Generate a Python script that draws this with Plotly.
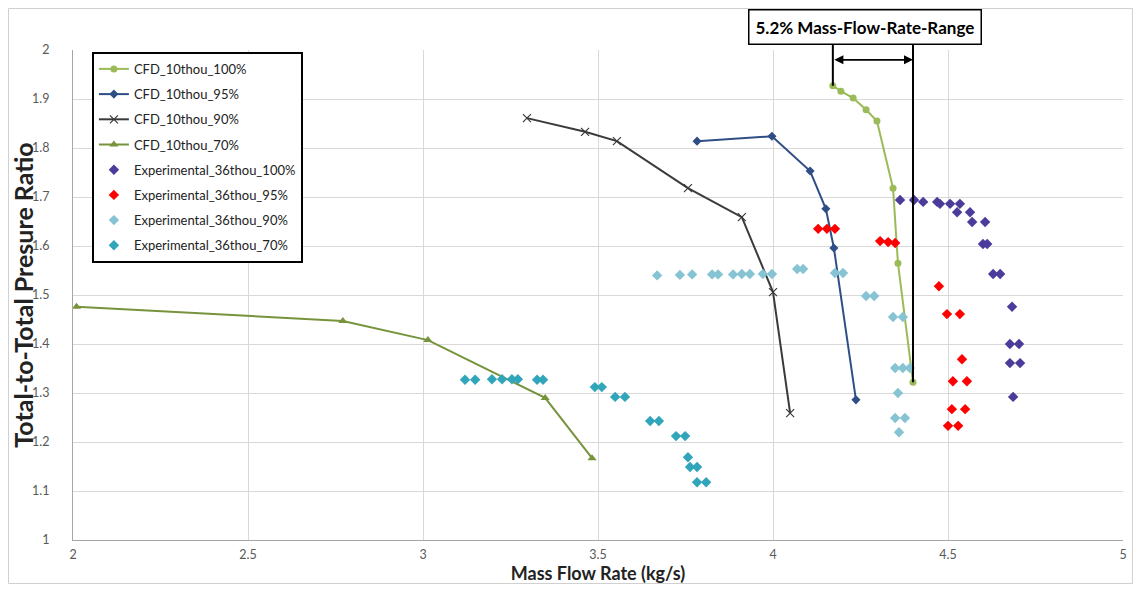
import plotly.graph_objects as go

# ---------------- data ----------------
cfd100_x = [4.171, 4.194, 4.229, 4.266, 4.297, 4.343, 4.357, 4.400]
cfd100_y = [1.927, 1.916, 1.902, 1.878, 1.855, 1.718, 1.565, 1.322]

cfd95_x = [3.783, 3.997, 4.106, 4.151, 4.174, 4.237]
cfd95_y = [1.814, 1.824, 1.753, 1.676, 1.596, 1.286]

cfd90_x = [3.297, 3.463, 3.554, 3.757, 3.911, 4.000, 4.049]
cfd90_y = [1.861, 1.833, 1.814, 1.718, 1.659, 1.506, 1.259]

cfd70_x = [2.010, 2.771, 3.014, 3.349, 3.483]
cfd70_y = [1.476, 1.447, 1.408, 1.290, 1.167]

exp100_x = [4.363, 4.403, 4.429, 4.469, 4.477, 4.506, 4.534, 4.526, 4.563, 4.569, 4.606,
            4.600, 4.612, 4.629, 4.649, 4.683, 4.677, 4.703, 4.677, 4.706, 4.686]
exp100_y = [1.694, 1.694, 1.690, 1.690, 1.686, 1.686, 1.686, 1.669, 1.669, 1.649, 1.649,
            1.604, 1.604, 1.543, 1.543, 1.476, 1.400, 1.400, 1.361, 1.361, 1.292]

exp95_x = [4.129, 4.154, 4.177, 4.306, 4.329, 4.349, 4.474, 4.497, 4.534, 4.540,
           4.514, 4.554, 4.511, 4.549, 4.500, 4.529]
exp95_y = [1.635, 1.635, 1.635, 1.610, 1.608, 1.606, 1.518, 1.461, 1.461, 1.369,
           1.324, 1.324, 1.267, 1.267, 1.233, 1.233]

exp90_x = [3.669, 3.734, 3.769, 3.826, 3.843, 3.886, 3.911, 3.934, 3.971, 3.997,
           4.069, 4.086, 4.177, 4.200, 4.266, 4.289, 4.343, 4.371, 4.349, 4.371,
           4.391, 4.357, 4.349, 4.377, 4.360]
exp90_y = [1.540, 1.541, 1.542, 1.542, 1.542, 1.542, 1.543, 1.543, 1.543, 1.543,
           1.553, 1.553, 1.545, 1.545, 1.498, 1.498, 1.455, 1.455, 1.351, 1.351,
           1.351, 1.300, 1.249, 1.249, 1.220]

exp70_x = [3.120, 3.149, 3.197, 3.226, 3.254, 3.271, 3.326, 3.343, 3.491, 3.511,
           3.549, 3.577, 3.649, 3.674, 3.723, 3.749, 3.757, 3.763, 3.783, 3.783, 3.809]
exp70_y = [1.327, 1.327, 1.328, 1.328, 1.328, 1.328, 1.327, 1.327, 1.312, 1.312,
           1.292, 1.292, 1.243, 1.243, 1.212, 1.212, 1.169, 1.149, 1.149, 1.118, 1.118]

x_range = [2, 5]
y_range = [1, 2]
x_ticks = [2, 2.5, 3, 3.5, 4, 4.5, 5]
x_tick_labels = ["2", "2.5", "3", "3.5", "4", "4.5", "5"]
y_ticks = [1, 1.1, 1.2, 1.3, 1.4, 1.5, 1.6, 1.7, 1.8, 1.9, 2]
y_tick_labels = ["1", "1.1", "1.2", "1.3", "1.4", "1.5", "1.6", "1.7", "1.8", "1.9", "2"]

range_label = "5.2% Mass-Flow-Rate-Range"
range_arrow_y = 1.98

FONT = "Lato, 'Open Sans', sans-serif"

fig = go.Figure()

def line_trace(x, y, name, color, symbol, msize, lw=2, mline=None):
    marker = dict(symbol=symbol, size=msize, color=color)
    if mline:
        marker["line"] = mline
    fig.add_trace(go.Scatter(x=x, y=y, mode="lines+markers", name=name,
                             legendgroup=name,
                             line=dict(color=color, width=lw), marker=marker))

line_trace(cfd100_x, cfd100_y, "CFD_10thou_100%", "#9BBB59", "circle", 7)
line_trace(cfd95_x, cfd95_y, "CFD_10thou_95%", "#2F4E86", "diamond", 7)
line_trace(cfd90_x, cfd90_y, "CFD_10thou_90%", "#3A3A3A", "x-thin", 8,
           mline=dict(color="#3A3A3A", width=1.2))
line_trace(cfd70_x, cfd70_y, "CFD_10thou_70%", "#77933C", "triangle-up", 8)

def pts_trace(x, y, name, color):
    fig.add_trace(go.Scatter(x=x, y=y, mode="markers", name=name, legendgroup=name,
                             marker=dict(symbol="diamond", size=8, color=color)))

pts_trace(exp100_x, exp100_y, "Experimental_36thou_100%", "#4B3C9C")
pts_trace(exp95_x, exp95_y, "Experimental_36thou_95%", "#FF0000")
pts_trace(exp90_x, exp90_y, "Experimental_36thou_90%", "#86C4D4")
pts_trace(exp70_x, exp70_y, "Experimental_36thou_70%", "#31A5BA")

# range markers (vertical lines from the range ends up to the label box)
def to_paper_y(v):
    return (v - y_range[0]) / (y_range[1] - y_range[0])

left_x, left_y = cfd100_x[0], cfd100_y[0]
right_x, right_y = cfd100_x[-1], cfd100_y[-1]
for xv, yv in [(left_x, left_y), (right_x, right_y)]:
    fig.add_shape(type="line", xref="x", yref="paper", x0=xv, x1=xv,
                  y0=to_paper_y(yv), y1=1.012, line=dict(color="black", width=2))

fig.add_annotation(x=right_x, y=range_arrow_y, ax=left_x, ay=range_arrow_y,
                   xref="x", yref="y", axref="x", ayref="y", text="",
                   showarrow=True, arrowhead=2, arrowside="end+start",
                   arrowsize=1, arrowwidth=1.8, arrowcolor="black")

fig.add_annotation(x=0.754, y=1.046, xref="paper", yref="paper", xanchor="center", yanchor="middle",
                   text="<b>" + range_label + "</b>",
                   showarrow=False, font=dict(family=FONT, size=17, color="black"),
                   bordercolor="black", borderwidth=1.5, borderpad=6, bgcolor="white")

# outer chart frame
fig.add_shape(type="rect", xref="paper", yref="paper", x0=-0.0614, x1=1.009,
              y0=-0.0888, y1=1.0847, line=dict(color="#D0D0D0", width=1), layer="below")

fig.update_layout(
    width=1125, height=576,
    margin=dict(l=65, r=10, t=42, b=44, autoexpand=False),
    paper_bgcolor="white", plot_bgcolor="white",
    font=dict(family=FONT, size=12, color="#404040"),
    showlegend=True,
    legend=dict(x=0.018, y=0.996, xanchor="left", yanchor="top",
                bgcolor="white", bordercolor="black", borderwidth=2,
                font=dict(family=FONT, size=13, color="#222222"),
                tracegroupgap=5.3, itemwidth=30, entrywidth=191, entrywidthmode="pixels"),
    xaxis=dict(range=x_range, tickvals=x_ticks, ticktext=x_tick_labels,
               showgrid=True, gridcolor="#D9D9D9", gridwidth=1,
               showline=True, linecolor="#A6A6A6", linewidth=1, zeroline=False,
               ticks="", tickfont=dict(size=12.5, color="#595959"), ticklabelstandoff=3,
               title=dict(text="<b>Mass Flow Rate (kg/s)</b>", font=dict(size=18, color="#222222"), standoff=8)),
    yaxis=dict(range=y_range, tickvals=y_ticks, ticktext=y_tick_labels,
               showgrid=True, gridcolor="#D9D9D9", gridwidth=1,
               showline=True, linecolor="#A6A6A6", linewidth=1, zeroline=False,
               ticks="", tickfont=dict(size=12.5, color="#595959"), ticklabelstandoff=20,
               title=dict(text="<b>Total-to-Total Presure Ratio</b>", font=dict(size=25, color="#222222"), standoff=2)),
)

fig.write_html("out.html")
